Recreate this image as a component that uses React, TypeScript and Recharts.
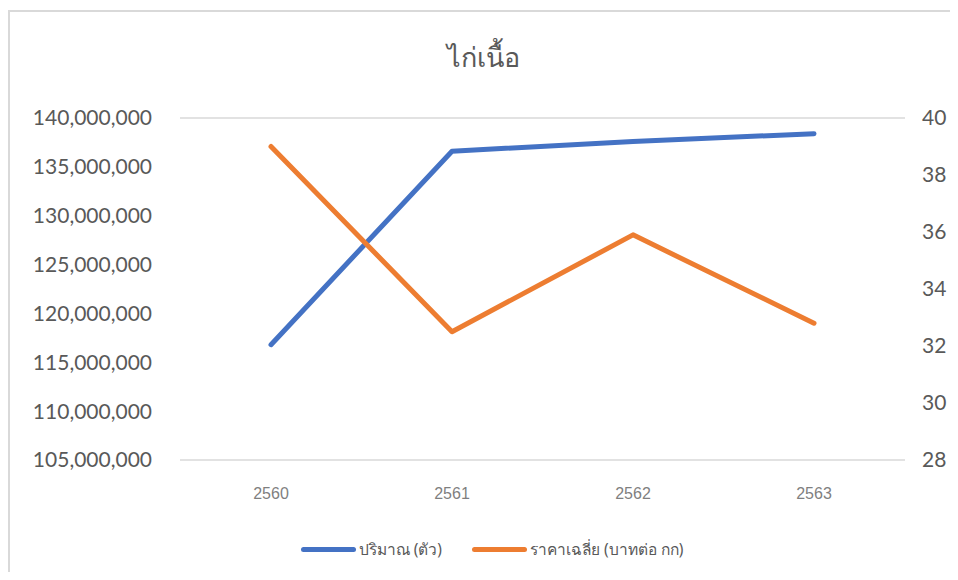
import React from "react";
import { LineChart, Line, XAxis, YAxis, CartesianGrid, Legend } from "recharts";

const years = ["2560", "2561", "2562", "2563"];
const quantity = [116800000, 136600000, 137600000, 138400000];
const price = [39.0, 32.5, 35.9, 32.8];
const leftTicks = [105000000, 110000000, 115000000, 120000000, 125000000, 130000000, 135000000, 140000000];
const rightTicks = [28, 30, 32, 34, 36, 38, 40];

const data = years.map((y, i) => ({ year: y, qty: quantity[i], price: price[i] }));

const fmt = (v: number) => v.toLocaleString("en-US");

function LegendContent({ payload }: any) {
  return (
    <div style={{ display: "flex", justifyContent: "center", alignItems: "center", gap: 30, paddingLeft: 18 }}>
      {(payload || []).map((p: any) => (
        <div key={p.value} style={{ display: "flex", alignItems: "center" }}>
          <div style={{ width: 55, height: 5, borderRadius: 3, background: p.color, marginRight: 3 }} />
          <span style={{ fontSize: 15.5, color: "#595959", fontFamily: "'Noto Sans', sans-serif" }}>{p.value}</span>
        </div>
      ))}
    </div>
  );
}

export default function App() {
  return (
    <div style={{ position: "relative", width: 950, height: 564, overflow: "hidden" }}>
      <div
        style={{
          position: "absolute", left: 0, top: 2, width: 960, height: 600,
          borderTop: "2px solid #d9d9d9", borderLeft: "2px solid #d9d9d9", boxSizing: "border-box",
        }}
      />
      <div
        style={{
          position: "absolute", left: 0, top: 28, width: 950, textAlign: "center",
          fontSize: 27, color: "#595959", fontFamily: "'Noto Sans', sans-serif",
        }}
      >
        ไก่เนื้อ
      </div>
      <div style={{ position: "absolute", left: 0, top: 0 }}>
        <LineChart width={950} height={560} data={data} margin={{ top: 110, right: 0, bottom: 0, left: 0 }}>
          <CartesianGrid vertical={false} stroke="#d9d9d9" strokeWidth={1.5} />
          <XAxis
            dataKey="year"
            axisLine={false}
            tickLine={false}
            tickMargin={22}
            height={83}
            padding={{ left: 91, right: 91 }}
            tick={{ fontSize: 16, fill: "#7f7f7f", fontFamily: "'Liberation Sans', Arial, sans-serif" }}
          />
          <YAxis
            yAxisId="left"
            orientation="left"
            width={172}
            domain={[105000000, 140000000]}
            ticks={leftTicks}
            tickFormatter={fmt}
            axisLine={false}
            tickLine={false}
            tickMargin={22}
            tick={{ fontSize: 21, fill: "#595959", fontFamily: "Lato, sans-serif" }}
          />
          <YAxis
            yAxisId="right"
            orientation="right"
            width={53}
            domain={[28, 40]}
            ticks={rightTicks}
            axisLine={false}
            tickLine={false}
            tickMargin={11}
            tick={{ fontSize: 21, fill: "#595959", fontFamily: "Lato, sans-serif" }}
          />
          <Line
            yAxisId="left"
            dataKey="qty"
            name="ปริมาณ (ตัว)"
            stroke="#4472C4"
            strokeWidth={5}
            strokeLinecap="round"
            strokeLinejoin="round"
            dot={false}
            activeDot={false}
            isAnimationActive={false}
          />
          <Line
            yAxisId="right"
            dataKey="price"
            name="ราคาเฉลี่ย (บาทต่อ กก)"
            stroke="#ED7D31"
            strokeWidth={5}
            strokeLinecap="round"
            strokeLinejoin="round"
            dot={false}
            activeDot={false}
            isAnimationActive={false}
          />
          <Legend
            content={<LegendContent />}
            wrapperStyle={{ position: "absolute", top: 529, left: 0, width: 950 }}
          />
        </LineChart>
      </div>
    </div>
  );
}
